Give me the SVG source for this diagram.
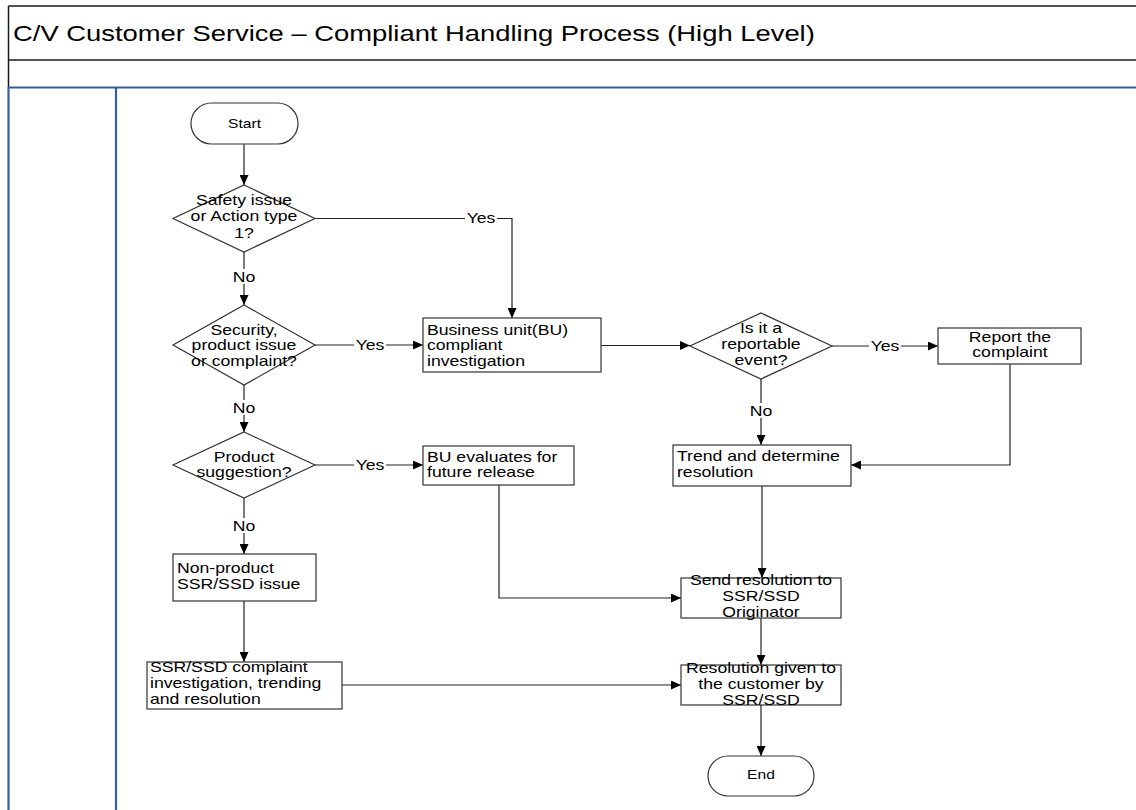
<svg xmlns="http://www.w3.org/2000/svg" width="1136" height="810" viewBox="0 0 1136 810">
<style>
.frame{fill:none;stroke:#1a1a1a;stroke-width:1.5}
.lane{fill:none;stroke:#2f5fa5;stroke-width:2.2}
.node{fill:#fff;stroke:#333;stroke-width:1.2}
.t{font-family:"Liberation Sans",Arial,sans-serif;font-size:14px;fill:#000}
.tt{font-family:"Liberation Sans",Arial,sans-serif;font-size:22px;fill:#000}
.ts{font-family:"Liberation Sans",Arial,sans-serif;font-size:12.4px;fill:#000}
.c{fill:none;stroke:#222;stroke-width:1.2}
.lb{fill:#fff;stroke:none}
</style>
<defs>
<marker id="ah" markerUnits="userSpaceOnUse" markerWidth="11" markerHeight="9" refX="10" refY="4.5" orient="auto">
<path d="M0,0 L10,4.5 L0,9 z" fill="#000"/>
</marker>
</defs>
<rect width="1136" height="810" fill="#fff"/>
<g id="frame">
<line class="frame" x1="8.5" y1="6" x2="1136" y2="6"/>
<line class="frame" x1="8.5" y1="60" x2="1136" y2="60"/>
<line class="frame" x1="8.5" y1="6" x2="8.5" y2="87"/>
<line class="lane" x1="8" y1="87.5" x2="1136" y2="87.5"/>
<line class="lane" x1="8.5" y1="87" x2="8.5" y2="810"/>
<line class="lane" x1="116" y1="87" x2="116" y2="810"/>
<text class="tt" transform="translate(13 0) scale(1.245 1)" x="0" y="41">C/V Customer Service – Compliant Handling Process (High Level)</text>
</g>
<g id="connectors">
<path class="c" d="M244,144 V185" marker-end="url(#ah)"/>
<path class="c" d="M315,218.5 H512 V318" marker-end="url(#ah)"/>
<path class="c" d="M244,252 V305" marker-end="url(#ah)"/>
<path class="c" d="M315,345 H423" marker-end="url(#ah)"/>
<path class="c" d="M244,385 V432" marker-end="url(#ah)"/>
<path class="c" d="M315,465 H423" marker-end="url(#ah)"/>
<path class="c" d="M244,498 V554" marker-end="url(#ah)"/>
<path class="c" d="M244,601 V662" marker-end="url(#ah)"/>
<path class="c" d="M601,345.5 H690" marker-end="url(#ah)"/>
<path class="c" d="M832,346 H938" marker-end="url(#ah)"/>
<path class="c" d="M761,379 V445" marker-end="url(#ah)"/>
<path class="c" d="M1010,364 V465 H851" marker-end="url(#ah)"/>
<path class="c" d="M762,486 V578" marker-end="url(#ah)"/>
<path class="c" d="M499,485 V598 H681" marker-end="url(#ah)"/>
<path class="c" d="M761,618 V665" marker-end="url(#ah)"/>
<path class="c" d="M342,685 H681" marker-end="url(#ah)"/>
<path class="c" d="M761,705 V756" marker-end="url(#ah)"/>
<g id="labels">
<rect class="lb" x="465" y="211" width="32" height="15"/>
<text class="t" text-anchor="middle" transform="translate(481 0) scale(1.26 1)" x="0" y="223.5">Yes</text>
<rect class="lb" x="233" y="269" width="22" height="15"/>
<text class="t" text-anchor="middle" transform="translate(244 0) scale(1.26 1)" x="0" y="282">No</text>
<rect class="lb" x="354" y="337" width="32" height="15"/>
<text class="t" text-anchor="middle" transform="translate(370 0) scale(1.26 1)" x="0" y="350">Yes</text>
<rect class="lb" x="233" y="400" width="22" height="15"/>
<text class="t" text-anchor="middle" transform="translate(244 0) scale(1.26 1)" x="0" y="413">No</text>
<rect class="lb" x="354" y="457" width="32" height="15"/>
<text class="t" text-anchor="middle" transform="translate(370 0) scale(1.26 1)" x="0" y="470">Yes</text>
<rect class="lb" x="233" y="518" width="22" height="15"/>
<text class="t" text-anchor="middle" transform="translate(244 0) scale(1.26 1)" x="0" y="531">No</text>
<rect class="lb" x="869" y="338" width="32" height="15"/>
<text class="t" text-anchor="middle" transform="translate(885 0) scale(1.26 1)" x="0" y="351">Yes</text>
<rect class="lb" x="750" y="403" width="22" height="15"/>
<text class="t" text-anchor="middle" transform="translate(761 0) scale(1.26 1)" x="0" y="416">No</text>
</g>
</g>
<g id="start">
<rect class="node" x="191" y="103" width="107" height="41" rx="20.5"/>
<text class="ts" text-anchor="middle" transform="translate(244.5 0) scale(1.26 1)" x="0" y="128">Start</text>
</g>
<g id="d1">
<polygon class="node" points="244,185 315,218.5 244,252 173,218.5"/>
<text class="t" text-anchor="middle" transform="translate(244 0) scale(1.26 1)"><tspan x="0" y="205">Safety issue</tspan><tspan x="0" y="221.5">or Action type</tspan><tspan x="0" y="238">1?</tspan></text>
</g>
<g id="d2">
<polygon class="node" points="244,305 315,345 244,385 173,345"/>
<text class="t" text-anchor="middle" transform="translate(244 0) scale(1.26 1)"><tspan x="0" y="335">Security,</tspan><tspan x="0" y="350.5">product issue</tspan><tspan x="0" y="366">or complaint?</tspan></text>
</g>
<g id="d4">
<polygon class="node" points="244,432 315,465 244,498 173,465"/>
<text class="t" text-anchor="middle" transform="translate(244 0) scale(1.26 1)"><tspan x="0" y="462">Product</tspan><tspan x="0" y="477.5">suggestion?</tspan></text>
</g>
<g id="d3">
<polygon class="node" points="761,313 832,346 761,379 690,346"/>
<text class="t" text-anchor="middle" transform="translate(761 0) scale(1.26 1)"><tspan x="0" y="333">Is it a</tspan><tspan x="0" y="349">reportable</tspan><tspan x="0" y="365">event?</tspan></text>
</g>
<g id="business">
<rect class="node" x="423" y="318" width="178" height="54"/>
<text class="t" transform="translate(427 0) scale(1.26 1)"><tspan x="0" y="335">Business unit(BU)</tspan><tspan x="0" y="350.5">compliant</tspan><tspan x="0" y="366">investigation</tspan></text>
</g>
<g id="report">
<rect class="node" x="938" y="328" width="143" height="36"/>
<text class="t" text-anchor="middle" transform="translate(1010 0) scale(1.26 1)"><tspan x="0" y="342">Report the</tspan><tspan x="0" y="357.5">complaint</tspan></text>
</g>
<g id="trend">
<rect class="node" x="673" y="445" width="178" height="41"/>
<text class="t" transform="translate(677 0) scale(1.26 1)"><tspan x="0" y="461">Trend and determine</tspan><tspan x="0" y="477">resolution</tspan></text>
</g>
<g id="bueval">
<rect class="node" x="423" y="446" width="151" height="39"/>
<text class="t" transform="translate(427 0) scale(1.26 1)"><tspan x="0" y="462">BU evaluates for</tspan><tspan x="0" y="477.5">future release</tspan></text>
</g>
<g id="nonproduct">
<rect class="node" x="173" y="554" width="143" height="47"/>
<text class="t" transform="translate(177 0) scale(1.26 1)"><tspan x="0" y="573">Non-product</tspan><tspan x="0" y="589">SSR/SSD issue</tspan></text>
</g>
<g id="ssr">
<rect class="node" x="147" y="662" width="195" height="47"/>
<text class="t" transform="translate(150 0) scale(1.26 1)"><tspan x="0" y="672">SSR/SSD complaint</tspan><tspan x="0" y="688">investigation, trending</tspan><tspan x="0" y="704">and resolution</tspan></text>
</g>
<g id="send">
<rect class="node" x="681" y="578" width="160" height="40"/>
<text class="t" text-anchor="middle" transform="translate(761 0) scale(1.26 1)"><tspan x="0" y="585">Send resolution to</tspan><tspan x="0" y="601">SSR/SSD</tspan><tspan x="0" y="617">Originator</tspan></text>
</g>
<g id="resolution">
<rect class="node" x="681" y="665" width="160" height="40"/>
<text class="t" text-anchor="middle" transform="translate(761 0) scale(1.26 1)"><tspan x="0" y="673">Resolution given to</tspan><tspan x="0" y="689">the customer by</tspan><tspan x="0" y="705">SSR/SSD</tspan></text>
</g>
<g id="end">
<rect class="node" x="708" y="756" width="106" height="40" rx="20"/>
<text class="ts" text-anchor="middle" transform="translate(761 0) scale(1.26 1)" x="0" y="779">End</text>
</g>
</svg>
